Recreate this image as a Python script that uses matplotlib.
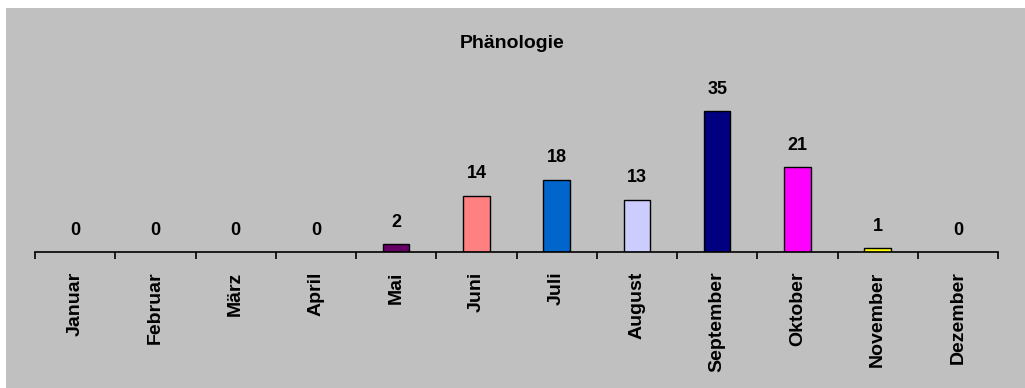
import numpy as np
import matplotlib.pyplot as plt
from matplotlib.patches import Rectangle

# Phänologie: Anzahl der Funde je Monat
monate = ['Januar', 'Februar', 'März', 'April', 'Mai', 'Juni', 'Juli',
          'August', 'September', 'Oktober', 'November', 'Dezember']
anzahl = [0, 0, 0, 0, 2, 14, 18, 13, 35, 21, 1, 0]
farben = ['#C0C0C0', '#C0C0C0', '#C0C0C0', '#C0C0C0', '#660066', '#FF8080',
          '#0066CC', '#CCCCFF', '#000080', '#FF00FF', '#FFFF00', '#C0C0C0']

plt.rcParams['font.family'] = ['Liberation Sans', 'DejaVu Sans']
plt.rcParams['font.weight'] = 'bold'

fig = plt.figure(figsize=(10.25, 3.88), dpi=100, facecolor='white')
# grauer Diagrammbereich mit schmalem weißen Rand oben und links
fig.patches.append(Rectangle((6 / 1025, 0), 1, 1 - 8 / 388, transform=fig.transFigure,
                             facecolor='#C0C0C0', edgecolor='none', zorder=-10))

ax = fig.add_axes([35 / 1025, 136 / 388, 963 / 1025, 161 / 388])
ax.set_facecolor('none')

x = np.arange(len(monate))
hoehen = np.array(anzahl)
bars = ax.bar(x, hoehen, width=0.33, color=farben, edgecolor='black', linewidth=1.0)
for i, b in enumerate(bars):
    if hoehen[i] == 0:
        b.set_visible(False)

for xi, v in zip(x, anzahl):
    ax.annotate(str(v), (xi, v), xytext=(0, 9.5), textcoords='offset points',
                ha='center', va='bottom', fontsize=13, fontweight='bold')

ax.set_xlim(-0.5, len(monate) - 0.5)
ax.set_ylim(0, 40)

for s in ['top', 'right', 'left']:
    ax.spines[s].set_visible(False)
ax.spines['bottom'].set_linewidth(1.2)
ax.set_yticks([])

ax.set_xticks(x)
ax.set_xticklabels(monate, rotation=90, fontsize=14, fontweight='bold')
ax.tick_params(axis='x', which='major', length=0, pad=14)
ax.set_xticks(np.arange(-0.5, len(monate)), minor=True)
ax.tick_params(axis='x', which='minor', length=5, width=1.2, direction='out')

fig.text(0.5, 1 - 43 / 388, 'Phänologie', ha='center', va='center',
         fontsize=14, fontweight='bold')

plt.savefig('out.png', dpi=100, facecolor=fig.get_facecolor())
